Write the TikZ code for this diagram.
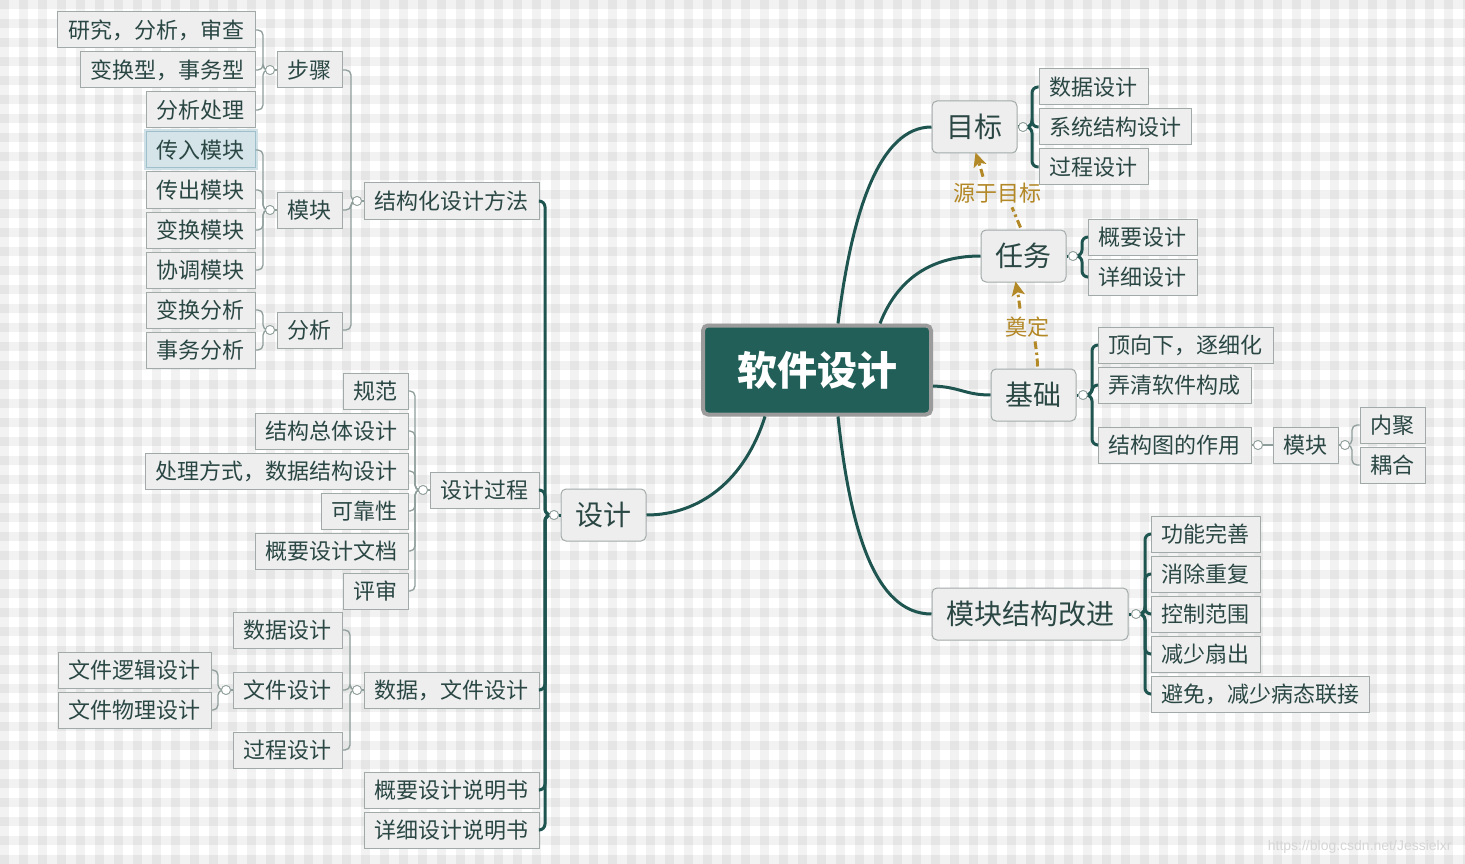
\documentclass[tikz,border=0pt]{standalone}
\usepackage{fontspec}
\setmainfont{Noto Sans CJK SC}
\newfontfamily\wmfont{Liberation Sans}
\usetikzlibrary{arrows.meta,calc}
\definecolor{lineteal}{HTML}{1F5550}
\definecolor{rootfill}{HTML}{225F58}
\definecolor{rootborder}{HTML}{9B9B9B}
\definecolor{boxfill}{HTML}{EEEEEE}
\definecolor{boxborder}{HTML}{A2AAA9}
\definecolor{txtcol}{HTML}{2A4744}
\definecolor{thincol}{HTML}{8E9E9B}
\definecolor{goldcol}{HTML}{B38827}
\definecolor{hlfill}{HTML}{D4E4E9}
\definecolor{hlborder}{HTML}{9FC0CA}
\definecolor{hlglow}{HTML}{CFE0E6}
\begin{document}
\begin{tikzpicture}[x=1pt,y=-1pt,
  leaf/.style={draw=boxborder, fill=boxfill, line width=1pt, inner sep=0pt,
    minimum height=36pt, text=txtcol, font=\fontsize{22}{24}\selectfont},
  hl/.style={leaf, fill=hlfill, draw=hlborder,
    preaction={draw=hlglow, line width=5pt, rounded corners=3pt}},
  branch/.style={draw=boxborder, fill=boxfill, line width=1pt, inner sep=0pt,
    rounded corners=5pt, minimum height=52pt, text=txtcol, font=\fontsize{28}{30}\selectfont},
  rootbox/.style={draw=rootborder, fill=rootfill, line width=4pt, rounded corners=5pt,
    inner sep=0pt, minimum width=228pt, minimum height=89pt, text=white,
    font=\fontsize{40}{44}\selectfont\bfseries},
  knob/.style={circle, draw=thincol, fill=white, line width=0.8pt, minimum size=9pt, inner sep=0pt},
  thk/.style={draw=lineteal, line width=3pt, rounded corners=6pt},
  thn/.style={draw=thincol, line width=1.3pt, rounded corners=5pt},
  curve/.style={draw=lineteal, line width=3pt},
  reld/.style={draw=goldcol, line width=3pt, dash pattern=on 8pt off 3.5pt on 2.5pt off 3.5pt},
  reltip/.style={-{Stealth[width=13pt,length=14pt,inset=3pt]}},
  rellabel/.style={text=goldcol, inner sep=0pt, font=\fontsize{22}{24}\selectfont}
]
\useasboundingbox (0,0) rectangle (1465,864);
% plaid background
\fill[white] (0,0) rectangle (1465,864);
\foreach \i in {0,...,77} { \fill[black, opacity=0.05] (\i*19,0) rectangle ++(9,864); }
\foreach \j in {0,...,45} { \fill[black, opacity=0.05] (0,\j*19) rectangle ++(1465,9); }

% ---------- nodes ----------
\node[rootbox] (root) at (817,370) {软件设计};

\node[branch, minimum width=85pt] (mubiao) at (974.5,127) {目标};
\node[branch, minimum width=85pt] (renwu) at (1023.5,256) {任务};
\node[branch, minimum width=85pt] (jichu) at (1033.5,395) {基础};
\node[branch, minimum width=196pt] (gaijin) at (1030,614) {模块结构改进};
\node[branch, minimum width=85pt] (sheji) at (603.5,515) {设计};

% right leaves
\node[leaf, minimum width=109pt] (sjsjR) at (1093.5,87) {数据设计};
\node[leaf, minimum width=152pt] (xtjgsj) at (1115,127) {系统结构设计};
\node[leaf, minimum width=109pt] (gcsjR) at (1093.5,167) {过程设计};

\node[leaf, minimum width=109pt] (gysjR) at (1142.5,237) {概要设计};
\node[leaf, minimum width=109pt] (xxsjR) at (1142.5,277) {详细设计};

\node[leaf, minimum width=175pt] (dxx) at (1185.5,345) {顶向下，逐细化};
\node[leaf, minimum width=153pt] (nqrj) at (1174.5,385) {弄清软件构成};
\node[leaf, minimum width=153pt] (jgtzy) at (1174.5,445) {结构图的作用};
\node[leaf, minimum width=65pt] (mokuaiR) at (1305.5,445) {模块};
\node[leaf, minimum width=65pt] (neiju) at (1392.5,425) {内聚};
\node[leaf, minimum width=65pt] (ouhe) at (1392.5,465) {耦合};

\node[leaf, minimum width=109pt] (gnws) at (1205.5,534) {功能完善};
\node[leaf, minimum width=109pt] (xccf) at (1205.5,574) {消除重复};
\node[leaf, minimum width=109pt] (kzfw) at (1205.5,614) {控制范围};
\node[leaf, minimum width=109pt] (jsss) at (1205.5,654) {减少扇出};
\node[leaf, minimum width=218pt] (bmjs) at (1260,694) {避免，减少病态联接};

% left leaves (upper)
\node[leaf, minimum width=175pt] (jgh) at (451.5,201) {结构化设计方法};
\node[leaf, minimum width=65pt] (buzhou) at (309.5,70) {步骤};
\node[leaf, minimum width=65pt] (mokuaiL) at (309.5,210) {模块};
\node[leaf, minimum width=65pt] (fenxi) at (309.5,330) {分析};
\node[leaf, minimum width=198pt] (yanjiu) at (156,30) {研究，分析，审查};
\node[leaf, minimum width=175pt] (bhx) at (167.5,70) {变换型，事务型};
\node[leaf, minimum width=109pt] (fxcl) at (200.5,110) {分析处理};
\node[hl, minimum width=109pt] (chuanru) at (200.5,150) {传入模块};
\node[leaf, minimum width=109pt] (chuanchu) at (200.5,190) {传出模块};
\node[leaf, minimum width=109pt] (bhmk) at (200.5,230) {变换模块};
\node[leaf, minimum width=109pt] (xtmk) at (200.5,270) {协调模块};
\node[leaf, minimum width=109pt] (bhfx) at (200.5,310) {变换分析};
\node[leaf, minimum width=109pt] (swfx) at (200.5,350) {事务分析};

% left leaves (lower)
\node[leaf, minimum width=109pt] (sjgc) at (484.5,490) {设计过程};
\node[leaf, minimum width=65pt] (guifan) at (375.5,391) {规范};
\node[leaf, minimum width=153pt] (jgztsj) at (331.5,431) {结构总体设计};
\node[leaf, minimum width=263pt] (clfs) at (276.5,471) {处理方式，数据结构设计};
\node[leaf, minimum width=87pt] (kkx) at (364.5,511) {可靠性};
\node[leaf, minimum width=153pt] (gysjwd) at (331.5,551) {概要设计文档};
\node[leaf, minimum width=65pt] (pingshen) at (375.5,591) {评审};

\node[leaf, minimum width=175pt] (sjwjsj) at (451.5,690) {数据，文件设计};
\node[leaf, minimum width=109pt] (sjsjL) at (287.5,630) {数据设计};
\node[leaf, minimum width=109pt] (wjsj) at (287.5,690) {文件设计};
\node[leaf, minimum width=109pt] (gcsjL) at (287.5,750) {过程设计};
\node[leaf, minimum width=153pt] (wjljsj) at (134.5,670) {文件逻辑设计};
\node[leaf, minimum width=153pt] (wjwlsj) at (134.5,710) {文件物理设计};

\node[leaf, minimum width=175pt] (gysjsms) at (451.5,790) {概要设计说明书};
\node[leaf, minimum width=175pt] (xxsjsms) at (451.5,830) {详细设计说明书};

% relation labels
\node[rellabel] (lb1) at (997,193) {源于目标};
\node[rellabel] (lb2) at (1027,327) {奠定};

% knobs
\node[knob] (kmb) at (1023,127) {};
\node[knob] (krw) at (1073,256) {};
\node[knob] (kjc) at (1083,395) {};
\node[knob] (kgj) at (1136,614) {};
\node[knob] (kjt) at (1258,445) {};
\node[knob] (kmr) at (1345,445) {};
\node[knob] (ksj) at (554,515) {};
\node[knob] (kjgh) at (357,201) {};
\node[knob] (kbz) at (270,70) {};
\node[knob] (kml) at (270,210) {};
\node[knob] (kfx) at (270,330) {};
\node[knob] (ksg) at (423,490) {};
\node[knob] (ksw) at (357,690) {};
\node[knob] (kwj) at (226,690) {};

% bracket coordinates
\coordinate (bmb) at (1032,127);
\coordinate (brw) at (1082,256);
\coordinate (bjc) at (1092,395);
\coordinate (bgj) at (1145,614);
\coordinate (bmr) at (1352,445);
\coordinate (bsj) at (545,515);
\coordinate (bjgh) at (351,201);
\coordinate (bbz) at (263,70);
\coordinate (bml) at (263,210);
\coordinate (bfx) at (263,330);
\coordinate (bsg) at (415,490);
\coordinate (bsw) at (350,690);
\coordinate (bwj) at (218,690);

% ---------- connectors ----------
% root curves
\draw[curve] ($(root.north)+(21,0)$) .. controls (852,210) and (880,127) .. (mubiao.west);
\draw[curve] ($(root.north)+(63,0)$) .. controls (895,285) and (925,256) .. (renwu.west);
\draw[curve] ($(root.east)+(0,16)$) .. controls (960,387) and (965,395) .. (jichu.west);
\draw[curve] ($(root.south)+(21,0)$) .. controls (850,530) and (875,614) .. (gaijin.west);
\draw[curve] ($(root.south)+(-52,0)$) .. controls (745,480) and (700,515) .. (sheji.east);

% right thick brackets
\draw[thk] (mubiao.east) -- (kmb.west);
\foreach \c in {sjsjR,xtjgsj,gcsjR} \draw[thk] (kmb.east) -- (bmb) |- (\c.west);
\draw[thk] (renwu.east) -- (krw.west);
\foreach \c in {gysjR,xxsjR} \draw[thk] (krw.east) -- (brw) |- (\c.west);
\draw[thk] (jichu.east) -- (kjc.west);
\foreach \c in {dxx,nqrj,jgtzy} \draw[thk] (kjc.east) -- (bjc) |- (\c.west);
\draw[thk] (gaijin.east) -- (kgj.west);
\foreach \c in {gnws,xccf,kzfw,jsss,bmjs} \draw[thk] (kgj.east) -- (bgj) |- (\c.west);
% right thin
\draw[thn] (jgtzy.east) -- (kjt.west);
\draw[thn] (kjt.east) -- (mokuaiR.west);
\draw[thn] (mokuaiR.east) -- (kmr.west);
\foreach \c in {neiju,ouhe} \draw[thn] (kmr.east) -- (bmr) |- (\c.west);

% left thick bracket
\draw[thk] (sheji.west) -- (ksj.east);
\foreach \c in {jgh,sjgc,sjwjsj,gysjsms,xxsjsms} \draw[thk] (ksj.west) -- (bsj) |- (\c.east);
% left thin brackets
\draw[thn] (jgh.west) -- (kjgh.east);
\foreach \c in {buzhou,mokuaiL,fenxi} \draw[thn] (kjgh.west) -- (bjgh) |- (\c.east);
\draw[thn] (buzhou.west) -- (kbz.east);
\foreach \c in {yanjiu,bhx,fxcl} \draw[thn] (kbz.west) -- (bbz) |- (\c.east);
\draw[thn] (mokuaiL.west) -- (kml.east);
\foreach \c in {chuanru,chuanchu,bhmk,xtmk} \draw[thn] (kml.west) -- (bml) |- (\c.east);
\draw[thn] (fenxi.west) -- (kfx.east);
\foreach \c in {bhfx,swfx} \draw[thn] (kfx.west) -- (bfx) |- (\c.east);
\draw[thn] (sjgc.west) -- (ksg.east);
\foreach \c in {guifan,jgztsj,clfs,kkx,gysjwd,pingshen} \draw[thn] (ksg.west) -- (bsg) |- (\c.east);
\draw[thn] (sjwjsj.west) -- (ksw.east);
\foreach \c in {sjsjL,wjsj,gcsjL} \draw[thn] (ksw.west) -- (bsw) |- (\c.east);
\draw[thn] (wjsj.west) -- (kwj.east);
\foreach \c in {wjljsj,wjwlsj} \draw[thn] (kwj.west) -- (bwj) |- (\c.east);

% redraw knobs on top
\foreach \k in {kmb,krw,kjc,kgj,kjt,kmr,ksj,kjgh,kbz,kml,kfx,ksg,ksw,kwj}
  \draw[draw=thincol, fill=white, line width=0.8pt] (\k) circle (4.5pt);

% relationship arrows
\draw[reld] ($(renwu.north)+(-3,-2)$) .. controls (1017,218) .. ($(lb1.south)+(15,4)$);
\draw[reld, reltip] ($(lb1.north)+(-14,-6)$) .. controls (980,166) .. ($(mubiao.south)+(1,-1)$);
\draw[reld] ($(jichu.north)+(4,-2)$) .. controls (1037,355) .. ($(lb2.south)+(8,4)$);
\draw[reld, reltip] ($(lb2.north)+(-7,-8)$) .. controls (1018,294) .. ($(renwu.south)+(-8,-1)$);

% watermark
\node[text=black!16, font=\wmfont\fontsize{14}{16}\selectfont, anchor=east] (wm) at (1455,847) {https://blog.csdn.net/Jessielxr};
\end{tikzpicture}
\end{document}
